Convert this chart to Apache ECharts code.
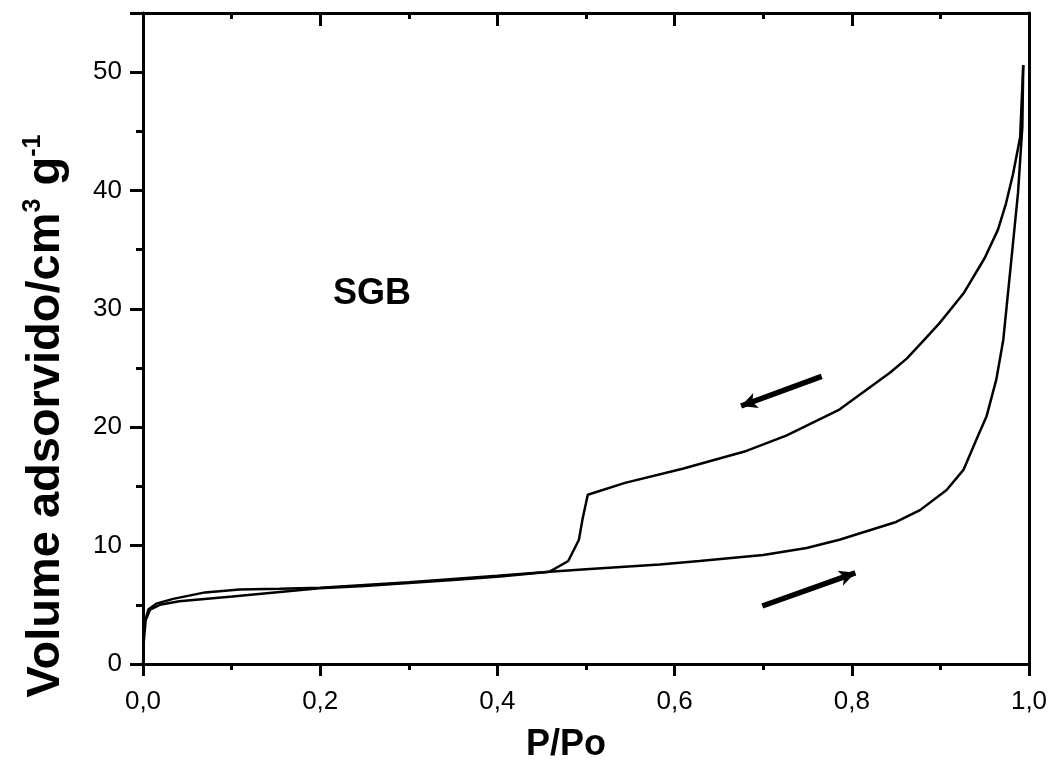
<!DOCTYPE html>
<html>
<head>
<meta charset="utf-8">
<script src="https://cdn.jsdelivr.net/npm/echarts@6/dist/echarts.min.js"></script>
<style>
html,body{margin:0;padding:0;background:#fff;}
#chart{width:1048px;height:761px;}
</style>
</head>
<body>
<div id="chart"></div>
<script>
// Adsorption branch (P/Po ascending)
const adsorption = [
  [0,0],[0.001,2.0],[0.003,3.7],[0.008,4.6],[0.019,5.0],[0.041,5.3],[0.101,5.7],
  [0.199,6.4],[0.25,6.6],[0.3,6.85],[0.35,7.1],[0.403,7.4],[0.459,7.8],[0.5,8.0],
  [0.583,8.4],[0.628,8.7],[0.7,9.2],[0.749,9.8],[0.786,10.5],[0.85,12.0],[0.877,13.0],
  [0.907,14.7],[0.926,16.4],[0.942,19.2],[0.952,20.9],[0.963,24.0],[0.971,27.4],
  [0.980,34.1],[0.9876,39.8],[0.9925,45.4],[0.9935,50.6]
];
// Desorption branch (P/Po descending)
const desorption = [
  [0.9935,50.6],[0.990,44.5],[0.982,41.4],[0.974,38.9],[0.965,36.7],[0.950,34.3],
  [0.926,31.3],[0.899,28.8],[0.882,27.4],[0.862,25.8],[0.843,24.6],[0.786,21.5],
  [0.726,19.3],[0.681,18.0],[0.609,16.5],[0.544,15.3],[0.502,14.3],[0.496,12.2],
  [0.492,10.5],[0.480,8.7],[0.459,7.8],[0.4,7.45],[0.3,6.9],[0.2,6.45],[0.154,6.35],
  [0.109,6.3],[0.07,6.05],[0.034,5.5],[0.015,5.1],[0.006,4.6],[0.003,3.8]
];
// Direction arrows [start, end] in data coordinates
const arrowDesorption = [[0.766,24.3],[0.675,21.8]];
const arrowAdsorption = [[0.699,4.9],[0.804,7.7]];
const sampleLabel = 'SGB';
const xTitle = 'P/Po';

const chart = echarts.init(document.getElementById('chart'), null, {renderer:'canvas'});
const fontFam = '"Liberation Sans", Arial, sans-serif';
const axisLine = {show:true, onZero:false, lineStyle:{color:'#000', width:3}};

function arrowLine(a){
  return [{coord:a[0], symbol:'none'},{coord:a[1], symbol:'arrow', symbolSize:[12,16]}];
}

chart.setOption({
  animation:false,
  backgroundColor:'#fff',
  grid:{left:143, right:19, top:13, bottom:97, containLabel:false, outerBoundsMode:'none'},
  xAxis:[{
    type:'value', min:0, max:1, interval:0.2, position:'bottom',
    name:xTitle, nameLocation:'middle', nameGap:63,
    nameTextStyle:{fontFamily:fontFam, fontWeight:'bold', fontSize:36, color:'#000', padding:[0,40,0,0]},
    axisLine:axisLine,
    axisTick:{show:true, inside:false, length:12, lineStyle:{color:'#000', width:3}},
    minorTick:{show:true, splitNumber:2, length:6, lineStyle:{color:'#000', width:3}},
    axisLabel:{fontFamily:fontFam, fontSize:26, color:'#000', margin:25,
      formatter:v=>v.toFixed(1).replace('.',',')},
    splitLine:{show:false}
  },{
    type:'value', min:0, max:1, interval:0.2, position:'top',
    axisLine:axisLine,
    axisTick:{show:true, inside:true, length:13, lineStyle:{color:'#000', width:3}},
    minorTick:{show:true, splitNumber:2, length:6, lineStyle:{color:'#000', width:3}},
    axisLabel:{show:false}, splitLine:{show:false}
  }],
  yAxis:[{
    type:'value', min:0, max:55, interval:10, position:'left',
    name:'Volume adsorvido/cm{sup|3} g{sup|-1}',
    nameLocation:'middle', nameGap:72, nameRotate:90,
    nameTextStyle:{fontFamily:fontFam, fontWeight:'bold', fontSize:47, color:'#000',
      padding:[0,155,0,0],
      rich:{sup:{fontFamily:fontFam, fontWeight:'bold', fontSize:25, color:'#000', padding:[0,0,25,0]}}},
    axisLine:axisLine,
    axisTick:{show:true, inside:false, length:13, lineStyle:{color:'#000', width:3}},
    minorTick:{show:true, splitNumber:2, length:7, lineStyle:{color:'#000', width:3}},
    axisLabel:{fontFamily:fontFam, fontSize:26, color:'#000', margin:21,
      formatter:v=> v>50 ? '' : String(v)},
    splitLine:{show:false}
  },{
    type:'value', min:0, max:55, interval:10, position:'right',
    axisLine:axisLine, axisTick:{show:false}, axisLabel:{show:false}, splitLine:{show:false}
  }],
  series:[{
    type:'line', name:'adsorção', data:adsorption, showSymbol:false, symbol:'none',
    lineStyle:{color:'#000', width:2.5}, z:3
  },{
    type:'line', name:'dessorção', data:desorption, showSymbol:false, symbol:'none',
    lineStyle:{color:'#000', width:2.5}, z:3,
    markLine:{
      silent:true, animation:false,
      lineStyle:{color:'#000', width:5.5, type:'solid'},
      label:{show:false},
      data:[arrowLine(arrowDesorption), arrowLine(arrowAdsorption)]
    }
  }],
  graphic:[
    {type:'text', left:333, top:276, style:{text:sampleLabel, fontFamily:fontFam, fontWeight:'bold', fontSize:36, fill:'#000'}},
    {type:'circle', shape:{cx:38, cy:657, r:2}, style:{fill:'#000'}}
  ]
});
</script>
</body>
</html>
